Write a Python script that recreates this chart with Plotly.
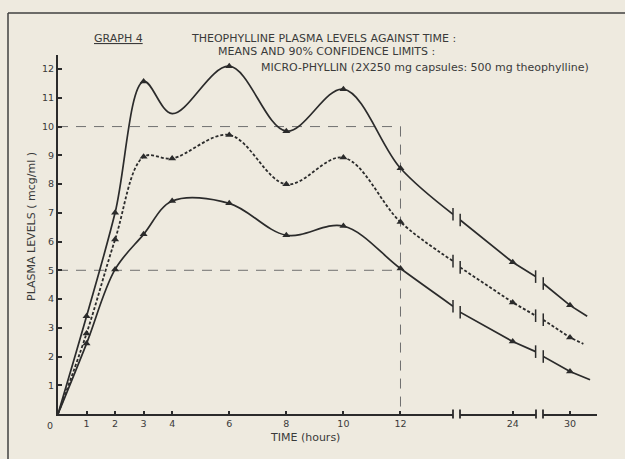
import plotly.graph_objects as go

# ---------------- data ----------------
hours = [0, 1, 2, 3, 4, 6, 8, 10, 12]
upper = [0, 3.4, 7.0, 11.57, 10.45, 12.1, 9.84, 11.3, 8.55]
middle = [0, 2.8, 6.07, 8.95, 8.89, 9.71, 7.99, 8.92, 6.68]
lower = [0, 2.45, 5.03, 6.25, 7.41, 7.33, 6.22, 6.54, 5.06]
upper_marked = [False, True, True, True, False, True, True, True, True]
middle_marked = [False, True, True, True, True, True, True, True, True]
lower_marked = [False, True, True, True, True, True, True, True, True]

# curve values where the first piece of the time axis is broken
break1_hour = 13.84
upper_break1 = 6.95
middle_break1 = 5.32
lower_break1 = 3.75

# second piece of the broken time axis (start, 24 h, end)
seg2_hours = [18.5, 24, 26.4]
upper_seg2 = [6.75, 5.28, 4.78]
middle_seg2 = [5.1, 3.88, 3.42]
lower_seg2 = [3.54, 2.52, 2.17]

# third piece (start, 30 h, end of line)
upper_seg3_hours = [27.2, 30, 31.8]
middle_seg3_hours = [27.2, 30, 31.4]
lower_seg3_hours = [27.2, 30, 32.1]
upper_seg3 = [4.54, 3.78, 3.4]
middle_seg3 = [3.28, 2.66, 2.44]
lower_seg3 = [2.0, 1.48, 1.19]

ref_levels = [10, 5]
ref_hour = 12

y_ticks = list(range(1, 13))
x1_ticks = [1, 2, 3, 4, 6, 8, 10, 12]
x2_ticks = [24]
x3_ticks = [30]

# ---------------- layout geometry ----------------
W, H = 625, 459
L, R, T, B = 58, 28, 55, 45
pw, ph = W - L - R, H - T - B


def px(xpix):
    return (xpix - L) / pw


def py(ypix):
    return (H - B - ypix) / ph


INK = "#2b2b2b"
TXT = "#3a3a3a"
BG = "#eeeadf"
FONT = "DejaVu Sans"

fig = go.Figure()

# reference dashed lines
for lev in ref_levels:
    fig.add_trace(go.Scatter(x=[0, ref_hour], y=[lev, lev], mode="lines",
                             line=dict(color="#707070", width=1, dash="10px,8px"),
                             hoverinfo="skip", showlegend=False))
fig.add_trace(go.Scatter(x=[ref_hour, ref_hour], y=[max(ref_levels), 0], mode="lines",
                         line=dict(color="#707070", width=1, dash="10px,8px"),
                         hoverinfo="skip", showlegend=False))

series = [
    (upper, upper_marked, upper_break1, upper_seg2, upper_seg3_hours, upper_seg3, "solid"),
    (middle, middle_marked, middle_break1, middle_seg2, middle_seg3_hours, middle_seg3, "3px,2px"),
    (lower, lower_marked, lower_break1, lower_seg2, lower_seg3_hours, lower_seg3, "solid"),
]

for vals, marked, b1, s2, s3h, s3, dash in series:
    lw = 1.7 if dash == "solid" else 1.8
    # first piece: smooth curve
    fig.add_trace(go.Scatter(x=hours + [break1_hour], y=vals + [b1], mode="lines",
                             line=dict(color=INK, width=lw, dash=dash, shape="spline", smoothing=1.0),
                             xaxis="x", yaxis="y", hoverinfo="skip", showlegend=False))
    mx = [h for h, m in zip(hours, marked) if m]
    my = [v for v, m in zip(vals, marked) if m]
    fig.add_trace(go.Scatter(x=mx, y=my, mode="markers",
                             marker=dict(symbol="triangle-up", size=7, color=INK),
                             xaxis="x", yaxis="y", showlegend=False))
    # second piece
    fig.add_trace(go.Scatter(x=seg2_hours, y=s2, mode="lines",
                             line=dict(color=INK, width=lw, dash=dash),
                             xaxis="x2", yaxis="y", hoverinfo="skip", showlegend=False))
    fig.add_trace(go.Scatter(x=[seg2_hours[1]], y=[s2[1]], mode="markers",
                             marker=dict(symbol="triangle-up", size=7, color=INK),
                             xaxis="x2", yaxis="y", showlegend=False))
    # third piece
    fig.add_trace(go.Scatter(x=s3h, y=s3, mode="lines",
                             line=dict(color=INK, width=lw, dash=dash),
                             xaxis="x3", yaxis="y", hoverinfo="skip", showlegend=False))
    fig.add_trace(go.Scatter(x=[s3h[1]], y=[s3[1]], mode="markers",
                             marker=dict(symbol="triangle-up", size=7, color=INK),
                             xaxis="x3", yaxis="y", showlegend=False))
    # break bars on the curves
    bar = dict(symbol="line-ns", size=9, color=INK, line=dict(color=INK, width=1.5))
    fig.add_trace(go.Scatter(x=[break1_hour], y=[b1], mode="markers", marker=bar,
                             cliponaxis=False, xaxis="x", yaxis="y", showlegend=False))
    fig.add_trace(go.Scatter(x=[seg2_hours[0], seg2_hours[-1]], y=[s2[0], s2[-1]], mode="markers",
                             marker=bar, cliponaxis=False, xaxis="x2", yaxis="y", showlegend=False))
    fig.add_trace(go.Scatter(x=[s3h[0]], y=[s3[0]], mode="markers", marker=bar,
                             cliponaxis=False, xaxis="x3", yaxis="y", showlegend=False))

d1 = [0, px(453)]
d2 = [px(460), px(536)]
d3 = [px(543), 1]
s23 = 9.55  # px per hour in pieces 2 and 3

axis_common = dict(showline=True, linecolor=INK, linewidth=2, ticks="inside", ticklen=3,
                   tickcolor=INK, tickwidth=1.5, showgrid=False, zeroline=False,
                   tickfont=dict(family=FONT, size=9.5, color=TXT), anchor="y", fixedrange=True)

fig.update_layout(
    width=W, height=H,
    margin=dict(l=L, r=R, t=T, b=B),
    paper_bgcolor=BG, plot_bgcolor=BG,
    xaxis=dict(domain=d1, range=[0, break1_hour], tickvals=x1_ticks,
               ticktext=[str(t) for t in x1_ticks], **axis_common),
    xaxis2=dict(domain=d2, range=[24 - (512.7 - 460) / s23, 24 + (536 - 512.7) / s23],
                tickvals=x2_ticks, ticktext=[str(t) for t in x2_ticks], **axis_common),
    xaxis3=dict(domain=d3, range=[30 - (570 - 543) / s23, 30 + (597 - 570) / s23],
                tickvals=x3_ticks, ticktext=[str(t) for t in x3_ticks], **axis_common),
    yaxis=dict(domain=[0, 1], range=[0, 12.49], anchor="x", showline=True, linecolor=INK,
               linewidth=2, ticks="inside", ticklen=4, tickcolor=INK, tickwidth=1.5,
               tickvals=y_ticks, ticktext=[str(t) for t in y_ticks], showgrid=False,
               zeroline=False, tickfont=dict(family=FONT, size=9.5, color=TXT), fixedrange=True),
    showlegend=False,
)

# axis break bars (double bars at the gaps of the time axis)
for ref, xv in [("x domain", 1), ("x2 domain", 0), ("x2 domain", 1), ("x3 domain", 0)]:
    fig.add_shape(type="line", xref=ref, yref="paper", x0=xv, x1=xv, y0=py(418.5), y1=py(409.5),
                  line=dict(color=INK, width=1.8))

# frame (top and left)
fig.add_shape(type="line", xref="paper", yref="paper", x0=px(8), x1=px(625), y0=py(13), y1=py(13),
              line=dict(color="#404040", width=1.5))
fig.add_shape(type="line", xref="paper", yref="paper", x0=px(8), x1=px(8), y0=py(13), y1=py(459),
              line=dict(color="#404040", width=1.5))

tf = dict(family=FONT, size=11, color=TXT)
ann = [
    dict(x=px(118.5), y=py(38), text="<u>GRAPH 4</u>", xanchor="center"),
    dict(x=px(323), y=py(38), text="THEOPHYLLINE PLASMA LEVELS AGAINST TIME :", xanchor="center"),
    dict(x=px(326.5), y=py(52), text="MEANS AND 90% CONFIDENCE LIMITS :", xanchor="center"),
    dict(x=px(424.5), y=py(67), text="MICRO-PHYLLIN (2X250 mg capsules: 500 mg theophylline)", xanchor="center"),
    dict(x=px(305), y=py(437), text="TIME (hours)", xanchor="center"),
    dict(x=px(50), y=py(425), text="0", xanchor="center", font=dict(family=FONT, size=9.5, color=TXT)),
]
for a in ann:
    fig.add_annotation(xref="paper", yref="paper", yanchor="middle", showarrow=False,
                       font=a.pop("font", tf), **a)
fig.add_annotation(xref="paper", yref="paper", x=px(31), y=py(227), text="PLASMA LEVELS ( mcg/ml )",
                   textangle=-90, showarrow=False, xanchor="center", yanchor="middle", font=tf)

fig.write_html("out.html")
